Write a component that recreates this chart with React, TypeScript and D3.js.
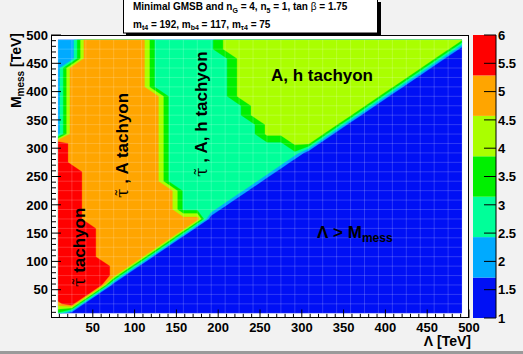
import React from "react";
import * as d3 from "d3";

const W = 523;
const H = 354;

// histogram: 30 x 30 bins over 0..500 TeV on both axes
const nBins = 30;
const axisMax = 500;

// region code per bin row, run-length encoded [code, count] along Lambda,
// first entry = highest M_mess row
const regionRuns: [number, number][][] = [
  [[2, 2], [5, 5], [3, 5], [4, 18]],
  [[2, 2], [5, 5], [3, 5], [4, 17], [1, 1]],
  [[2, 2], [5, 5], [3, 6], [4, 15], [1, 2]],
  [[2, 1], [5, 6], [3, 6], [4, 14], [1, 3]],
  [[2, 1], [5, 6], [3, 6], [4, 13], [1, 4]],
  [[2, 1], [5, 6], [3, 6], [4, 12], [1, 5]],
  [[2, 1], [5, 7], [3, 5], [4, 11], [1, 6]],
  [[2, 1], [5, 7], [3, 6], [4, 9], [1, 7]],
  [[2, 1], [5, 7], [3, 6], [4, 8], [1, 8]],
  [[2, 1], [5, 7], [3, 7], [4, 6], [1, 9]],
  [[2, 1], [5, 7], [3, 7], [4, 5], [1, 10]],
  [[6, 1], [5, 7], [3, 9], [4, 2], [1, 11]],
  [[6, 1], [5, 7], [3, 10], [1, 12]],
  [[6, 1], [5, 7], [3, 9], [1, 13]],
  [[6, 2], [5, 6], [3, 8], [1, 14]],
  [[6, 2], [5, 6], [3, 7], [1, 15]],
  [[6, 2], [5, 7], [3, 5], [1, 16]],
  [[6, 2], [5, 7], [3, 4], [1, 17]],
  [[6, 2], [5, 7], [3, 3], [1, 18]],
  [[6, 2], [5, 9], [1, 19]],
  [[6, 3], [5, 7], [1, 20]],
  [[6, 3], [5, 6], [1, 21]],
  [[6, 3], [5, 5], [1, 22]],
  [[6, 3], [5, 4], [1, 23]],
  [[6, 4], [5, 2], [1, 24]],
  [[6, 4], [5, 1], [1, 25]],
  [[6, 4], [1, 26]],
  [[6, 3], [1, 27]],
  [[5, 1], [6, 1], [1, 28]],
  [[3, 1], [1, 29]],
];

const zLevels = [1, 1.714, 2.429, 3.143, 3.857, 4.571, 5.286, 6];
const bandColors = ["#0010f5", "#00aaff", "#00ff99", "#00f000", "#aaff00", "#ffa500", "#ff0000"];

const axisTicks = [50, 100, 150, 200, 250, 300, 350, 400, 450, 500];
const minorStep = 10;
const zTicks = [1, 1.5, 2, 2.5, 3, 3.5, 4, 4.5, 5, 5.5, 6];

const font = "'Liberation Sans', Arial, Helvetica, sans-serif";

const frame = { left: 51, right: 469, top: 35, bottom: 318 };
const zBar = { left: 473, right: 496 };

export default function App() {
  const x = d3.scaleLinear().domain([0, axisMax]).range([frame.left, frame.right]);
  const y = d3.scaleLinear().domain([0, axisMax]).range([frame.bottom, frame.top]);
  const z = d3.scaleLinear().domain([1, 6]).range([frame.bottom, frame.top]);

  // grid of values, row 0 = lowest M_mess
  const values: number[] = [];
  const rowsBottomUp = regionRuns.slice().reverse();
  rowsBottomUp.forEach((row) => {
    row.forEach(([code, count]) => {
      for (let k = 0; k < count; k++) values.push(code);
    });
  });

  const binW = axisMax / nBins;
  const contours = d3
    .contours()
    .size([nBins, nBins])
    .thresholds(zLevels.slice(0, -1))(values);

  const proj = d3.geoTransform({
    point(px: number, py: number) {
      this.stream.point(x(px * binW), y(py * binW));
    },
  });
  const path = d3.geoPath(proj);

  const cx0 = x(binW / 2);
  const cx1 = x(axisMax - binW / 2);
  const cy0 = y(axisMax - binW / 2);
  const cy1 = y(binW / 2);
  const centres = d3.range(nBins).map((i) => binW / 2 + i * binW);

  const minorTicks = d3.range(0, axisMax + 1, minorStep).filter((v) => v % 50 !== 0);

  return (
    <svg
      width={W}
      height={H}
      style={{ position: "absolute", left: 0, top: 0, display: "block" }}
      fontFamily={font}
      fontWeight="bold"
    >
      <rect x={0} y={0} width={W} height={H} fill="#f2f2f2" />
      <rect x={0} y={H - 3} width={W} height={3} fill="#9a9a9a" />

      {/* frame */}
      <rect x={frame.left} y={frame.top} width={frame.right - frame.left} height={frame.bottom - frame.top} fill="#ffffff" />

      <defs>
        <clipPath id="histClip">
          <rect x={cx0} y={cy0} width={cx1 - cx0} height={cy1 - cy0} />
        </clipPath>
      </defs>

      <g clipPath="url(#histClip)">
        {contours.map((c, i) => (
          <path key={i} d={path(c as any) || ""} fill={bandColors[i]} stroke={bandColors[i]} strokeWidth={0.3} />
        ))}
        {centres.map((c, i) => (
          <g key={"s" + i} stroke="#ffffff" strokeOpacity={0.18} strokeWidth={1}>
            <line x1={x(c)} x2={x(c)} y1={cy0} y2={cy1} />
            <line x1={cx0} x2={cx1} y1={y(c)} y2={y(c)} />
          </g>
        ))}
      </g>

      {/* labels inside plot */}
      <g fontSize={17} fill="#000">
        <text transform={`translate(85,287) rotate(-90)`}>
          <tspan fontWeight="normal" fontFamily="'DejaVu Serif', serif">τ̃</tspan> tachyon
        </text>
        <text transform={`translate(128,198) rotate(-90)`}>
          <tspan fontWeight="normal" fontFamily="'DejaVu Serif', serif">τ̃</tspan> , A tachyon
        </text>
        <text transform={`translate(207,177) rotate(-90)`}>
          <tspan fontWeight="normal" fontFamily="'DejaVu Serif', serif">τ̃</tspan> , A, h tachyon
        </text>
        <text x={271} y={81}>A, h tachyon</text>
        <text x={317} y={238}>
          Λ &gt; M<tspan fontSize={12} dy={4}>mess</tspan>
        </text>
      </g>

      <rect x={frame.left + 0.5} y={frame.top + 0.5} width={frame.right - frame.left - 1} height={frame.bottom - frame.top - 1} fill="none" stroke="#000" strokeWidth={1} />

      {/* axes */}
      <g stroke="#000" strokeWidth={1}>
        {axisTicks.map((t) => (
          <line key={"xm" + t} x1={x(t)} x2={x(t)} y1={frame.bottom} y2={frame.bottom - 8.5} />
        ))}
        {minorTicks.map((t) => (
          <line key={"xn" + t} x1={x(t)} x2={x(t)} y1={frame.bottom} y2={frame.bottom - 4.2} />
        ))}
        {axisTicks.map((t) => (
          <line key={"ym" + t} x1={frame.left} x2={frame.left + 10} y1={y(t)} y2={y(t)} />
        ))}
        {minorTicks.map((t) => (
          <line key={"yn" + t} x1={frame.left} x2={frame.left + 5} y1={y(t)} y2={y(t)} />
        ))}
      </g>
      <g fontSize={13} fill="#000">
        {axisTicks.map((t) => (
          <text key={"xl" + t} x={x(t)} y={331.5} textAnchor="middle">{t}</text>
        ))}
        {axisTicks.map((t) => (
          <text key={"yl" + t} x={48} y={y(t) + 4.7} textAnchor="end">{t}</text>
        ))}
      </g>
      <text x={471} y={346} fontSize={14} textAnchor="end">Λ [TeV]</text>
      <text transform="translate(21,33) rotate(-90)" fontSize={14} textAnchor="end">
        M<tspan fontSize={10} dy={3}>mess</tspan><tspan dy={-3}> [TeV]</tspan>
      </text>

      {/* palette */}
      {bandColors.map((col, i) => (
        <rect key={"z" + i} x={zBar.left} y={z(zLevels[i + 1])} width={zBar.right - zBar.left} height={z(zLevels[i]) - z(zLevels[i + 1])} fill={col} />
      ))}
      <line x1={zBar.right} x2={zBar.right} y1={frame.top} y2={frame.bottom} stroke="#000" />
      {zTicks.map((t) => (
        <g key={"zt" + t}>
          <line x1={zBar.right - 12} x2={zBar.right} y1={z(t)} y2={z(t)} stroke="#000" />
          <text x={498} y={z(t) + 4.7} fontSize={13}>{t}</text>
        </g>
      ))}

      {/* title box */}
      <rect x={126} y={2} width={255} height={34} fill="#000" />
      <rect x={123.5} y={-0.5} width={254} height={33.5} fill="#fff" stroke="#000" />
      <g fontSize={10} fill="#000">
        <text x={133} y={10}>
          Minimal GMSB and n<tspan fontSize={7} dy={2.5}>G</tspan>
          <tspan dy={-2.5}> = 4, n</tspan><tspan fontSize={7} dy={2.5}>5</tspan>
          <tspan dy={-2.5}> = 1, tan </tspan><tspan fontWeight="normal">β</tspan> = 1.75
        </text>
        <text x={133} y={27.5}>
          m<tspan fontSize={7} dy={2.5}>t4</tspan>
          <tspan dy={-2.5}> = 192, m</tspan><tspan fontSize={7} dy={2.5}>b4</tspan>
          <tspan dy={-2.5}> = 117, m</tspan><tspan fontSize={7} dy={2.5}>τ4</tspan>
          <tspan dy={-2.5}> = 75</tspan>
        </text>
      </g>
    </svg>
  );
}
